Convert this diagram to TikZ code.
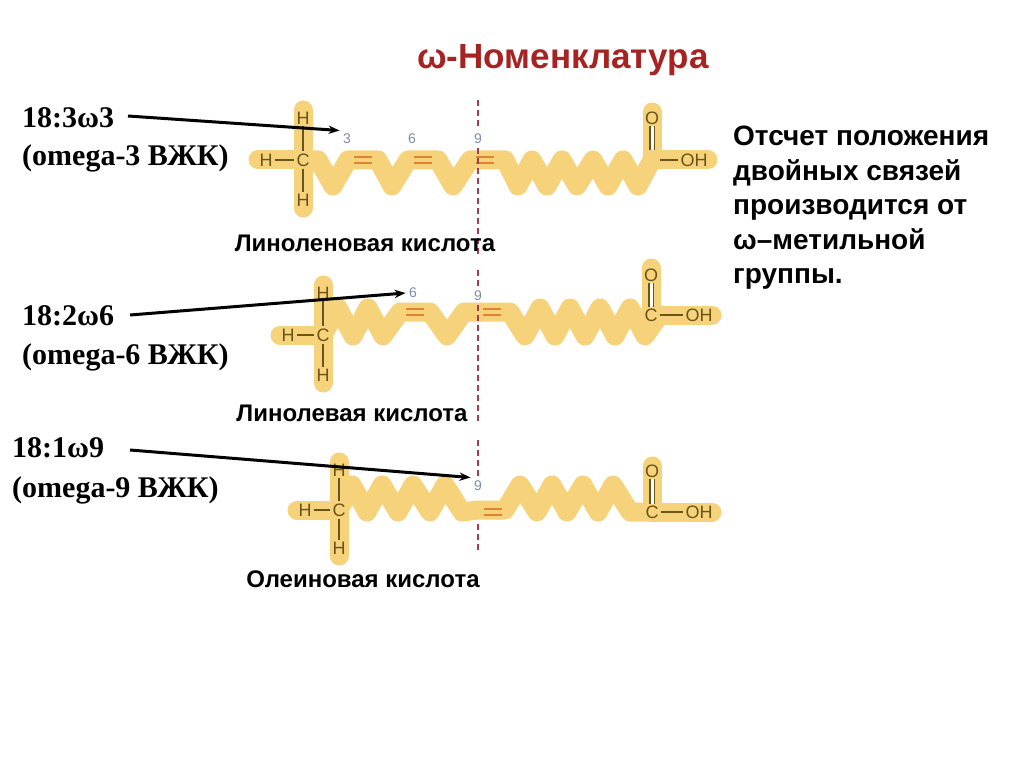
\documentclass[tikz,border=0pt]{standalone}
\usepackage{fontspec}
\setmainfont{Liberation Sans}
\newfontfamily\serifb{Liberation Serif}
\definecolor{band}{RGB}{246,210,122}
\definecolor{atom}{RGB}{105,85,25}
\definecolor{dbl}{RGB}{225,130,50}
\definecolor{num}{RGB}{125,140,170}
\definecolor{cut}{RGB}{165,60,85}
\definecolor{ttl}{RGB}{165,35,35}
\usetikzlibrary{arrows.meta}
\tikzset{
 bandl/.style={band,line width=19pt,line join=round,line cap=round},
 atm/.style={text=atom,font=\fontsize{18}{18}\selectfont,inner sep=1pt},
 bond/.style={atom,line width=1.6pt,shorten >=1pt,shorten <=1pt},
 eq/.style={dbl,line width=2.2pt},
 nb/.style={text=num,font=\fontsize{14}{14}\selectfont},
 cutl/.style={cut,line width=2.2pt,dash pattern=on 6pt off 4pt},
 lab/.style={font=\serifb\bfseries\fontsize{30}{30}\selectfont,anchor=west,inner sep=0},
 captxt/.style={font=\bfseries\fontsize{24}{24}\selectfont},
 arr/.style={-{Stealth[length=11pt]},line width=3pt,black}
}
\begin{document}
\begin{tikzpicture}[x=1pt,y=-1pt]
\useasboundingbox (0,0) rectangle (1024,767);
\node[text=ttl,font=\bfseries\fontsize{35}{35}\selectfont] (title) at (563,60) {ω-Номенклатура};
\node[font=\bfseries\fontsize{28}{34.5}\selectfont,align=left,anchor=north west,inner sep=0] (rt) at (733,126) {Отсчет положения\\двойных связей\\производится от\\ω–метильной\\группы.};
% ---------- molecule 1
\draw[bandl] (303,110)--(303,208);
\draw[bandl] (258,160)--(303,160);
\draw[bandl] (303,160)--(318,160)--(333,186)--(348,160)--(378,160)--(392,186)--(408,160)--(438,160)--(453,186)--(470,160)--(505,160)--(518,186)--(532,160)--(547,186)--(562,160)--(577,186)--(593,160)--(608,186)--(623,160)--(638,186)--(652,160);
\draw[bandl] (652,112)--(652,160)--(708,160);
\node[atm] (h1t) at (303,118) {H}; \node[atm] (c1) at (303,160) {C};
\node[atm] (h1b) at (303,200) {H}; \node[atm] (h1l) at (266,160) {H};
\draw[bond] (h1t)--(c1); \draw[bond] (c1)--(h1b); \draw[bond] (h1l)--(c1);
\node[atm] (o1) at (652,118) {O}; \coordinate (c1r) at (652,150);
\node[atm] (oh1) at (694,160) {OH};
\draw[atom,line width=1.6pt,double distance=3pt] (o1)--(c1r);
\draw[bond] (659,160)--(oh1);
\foreach \x in {363,423,485}{\draw[eq] (\x-9,157)--(\x+9,157) (\x-9,163)--(\x+9,163);}
\node[nb] (n3) at (347,139) {3}; \node[nb] (n6) at (412,139) {6}; \node[nb] (n9a) at (478,139) {9};
\coordinate (d1a) at (478,100); \coordinate (d1b) at (478,255);
\draw[cutl] (d1a)--(478,130) (478,148)--(d1b);
\node[captxt] (cap1) at (365,243) {Линоленовая кислота};
\node[lab] (l1a) at (22,118) {18:3ω3};
\node[lab] (l1b) at (22,158) {(omega-3 ВЖК)};
\coordinate (a1s) at (128,116);
\draw[arr] (a1s)--(n3.north west);
% ---------- molecule 2
\draw[bandl] (323,285)--(323,383);
\draw[bandl] (280,335)--(323,335);
\draw[bandl] (323,335)--(338,308)--(353,336)--(368,308)--(383,336)--(400,312)--(430,312)--(447,336)--(464,312)--(510,312)--(525,336)--(540,308)--(555,336)--(570,308)--(585,336)--(600,308)--(615,336)--(630,308)--(645,336)--(660,315);
\draw[bandl] (651,268)--(651,315)--(712,315);
\node[atm] (h2t) at (323,293) {H}; \node[atm] (c2) at (323,335) {C};
\node[atm] (h2b) at (323,375) {H}; \node[atm] (h2l) at (288,335) {H};
\draw[bond] (h2t)--(c2); \draw[bond] (c2)--(h2b); \draw[bond] (h2l)--(c2);
\node[atm] (o2) at (651,275) {O}; \node[atm] (c2r) at (651,315) {C};
\node[atm] (oh2) at (699,315) {OH};
\draw[atom,line width=1.6pt,double distance=3pt] (o2)--(c2r);
\draw[bond] (c2r)--(oh2);
\foreach \x in {415,492}{\draw[eq] (\x-9,309)--(\x+9,309) (\x-9,315)--(\x+9,315);}
\node[nb] (n6b) at (413,293) {6}; \node[nb] (n9b) at (478,296) {9};
\coordinate (d2a) at (478,270); \coordinate (d2b) at (478,422);
\draw[cutl] (d2a)--(478,288) (478,305)--(d2b);
\node[captxt] (cap2) at (352,413) {Линолевая кислота};
\node[lab] (l2a) at (22,316) {18:2ω6};
\node[lab] (l2b) at (22,357) {(omega-6 ВЖК)};
\coordinate (a2s) at (130,315);
\draw[arr] (a2s)--(n6b.west);
% ---------- molecule 3
\draw[bandl] (339,462)--(339,556);
\draw[bandl] (297,510)--(339,510);
\draw[bandl] (339,510)--(352,485)--(367,512)--(382,485)--(398,512)--(413,485)--(430,512)--(445,485)--(462,512)--(478,510)--(505,510)--(520,485)--(537,512)--(552,485)--(567,512)--(583,485)--(598,512)--(613,485)--(630,512)--(652,512);
\draw[bandl] (652,466)--(652,512)--(712,512);
\node[atm] (h3t) at (339,470) {H}; \node[atm] (c3) at (339,510) {C};
\node[atm] (h3b) at (339,548) {H}; \node[atm] (h3l) at (305,510) {H};
\draw[bond] (h3t)--(c3); \draw[bond] (c3)--(h3b); \draw[bond] (h3l)--(c3);
\node[atm] (o3) at (652,471) {O}; \node[atm] (c3r) at (652,512) {C};
\node[atm] (oh3) at (699,512) {OH};
\draw[atom,line width=1.6pt,double distance=3pt] (o3)--(c3r);
\draw[bond] (c3r)--(oh3);
\draw[eq] (484,509)--(502,509) (484,515)--(502,515);
\node[nb] (n9c) at (478,486) {9};
\coordinate (d3a) at (478,440); \coordinate (d3b) at (478,552);
\draw[cutl] (d3a)--(478,476) (478,524)--(d3b);
\node[captxt] (cap3) at (363,579) {Олеиновая кислота};
\node[lab] (l3a) at (12,448) {18:1ω9};
\node[lab] (l3b) at (12,490) {(omega-9 ВЖК)};
\coordinate (a3s) at (130,450);
\draw[arr] (a3s)--(n9c.north west);
\end{tikzpicture}
\end{document}
